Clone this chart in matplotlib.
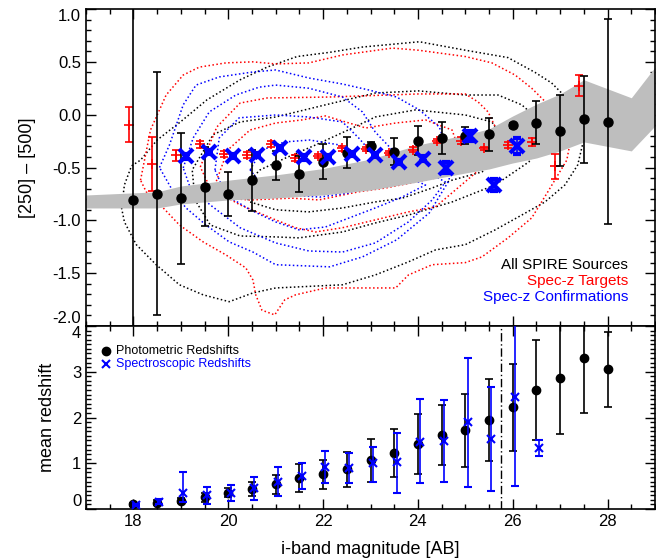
import matplotlib
matplotlib.use("Agg")
import matplotlib.pyplot as plt
from matplotlib.ticker import MultipleLocator

plt.rcParams['font.family'] = ['Liberation Sans', 'DejaVu Sans']
plt.rcParams['axes.linewidth'] = 1.2

# ---- top panel: [250]-[500] colour vs i-band magnitude ----
# all SPIRE sources (black)
blk_mag = [18.0, 18.5, 19.0, 19.5, 20.0, 20.5, 21.0, 21.5, 22.0, 22.5, 23.0,
           23.5, 24.0, 24.5, 25.0, 25.5, 26.0, 26.5, 27.0, 27.5, 28.0]
blk_col = [-0.81, -0.75, -0.79, -0.68, -0.75, -0.62, -0.48, -0.56, -0.445, -0.36, -0.30,
           -0.35, -0.245, -0.22, -0.20, -0.185, -0.10, -0.075, -0.15, -0.045, -0.065]
blk_err = [2.0, 1.15, 0.62, 0.37, 0.21, 0.29, 0.14, 0.17, 0.165, 0.145, 0.04,
           0.125, 0.14, 0.15, 0.08, 0.155, 0.025, 0.20, 0.34, 0.41, 0.97]

# spec-z targets (red)
red_mag = [17.9, 18.4, 18.9, 19.4, 19.9, 20.4, 20.9, 21.4, 21.9, 22.4,
           22.9, 23.4, 23.9, 24.4, 24.9, 25.4, 25.9, 26.4, 26.9, 27.4]
red_col = [-0.095, -0.465, -0.385, -0.28, -0.37, -0.38, -0.28, -0.41, -0.39, -0.32,
           -0.325, -0.36, -0.33, -0.25, -0.245, -0.32, -0.29, -0.26, -0.49, 0.275]
red_err = [0.165, 0.255, 0.05, 0.035, 0.03, 0.03, 0.03, 0.03, 0.02, 0.02,
           0.02, 0.02, 0.025, 0.02, 0.03, 0.015, 0.03, 0.04, 0.115, 0.10]

# spec-z confirmations (blue)
blu_mag = [19.1, 19.6, 20.1, 20.6, 21.1, 21.6, 22.1, 22.6, 23.1, 23.6,
           24.1, 24.6, 25.1, 25.6, 26.1]
blu_col = [-0.395, -0.35, -0.39, -0.38, -0.315, -0.405, -0.40, -0.375, -0.385, -0.45,
           -0.415, -0.50, -0.20, -0.665, -0.30]
blu_err = [0.02, 0.02, 0.02, 0.02, 0.02, 0.02, 0.02, 0.02, 0.02, 0.02,
           0.02, 0.05, 0.05, 0.06, 0.075]

# grey band
band_mag = [17.0, 18.5, 19.0, 20.0, 21.0, 22.0, 23.0, 24.0, 25.0, 25.5,
            26.0, 26.5, 27.0, 27.5, 28.5, 29.0]
band_hi = [-0.76, -0.73, -0.675, -0.62, -0.57, -0.51, -0.42, -0.287, -0.19, -0.135,
           -0.012, 0.10, 0.196, 0.33, 0.16, 0.45]
band_lo = [-0.883, -0.883, -0.845, -0.807, -0.788, -0.76, -0.713, -0.637, -0.552, -0.514,
           -0.457, -0.41, -0.343, -0.258, -0.343, -0.107]

# density contours (dotted)
blk_c1_mag = [17.75, 17.81, 17.96, 18.15, 18.50, 18.99, 19.55, 20.25, 20.82, 21.45, 22.14,
              22.83, 24.03, 25.0, 25.90, 26.47, 26.82, 27.03, 27.29, 27.45, 27.47, 27.37,
              27.10, 26.68, 26.19, 25.63, 25.0, 24.37, 23.80, 23.10, 22.41, 21.0, 20.52,
              20.02, 19.47, 18.97, 18.48, 18.06, 17.81]
blk_c1_col = [-0.883, -0.665, -0.485, -0.43, -0.24, -0.069, 0.14, 0.33, 0.45, 0.55, 0.59,
              0.64, 0.69, 0.61, 0.54, 0.40, 0.30, 0.205, 0.026, -0.145, -0.287, -0.476,
              -0.665, -0.826, -0.95, -1.09, -1.23, -1.28, -1.393, -1.517, -1.61, -1.64, -1.687,
              -1.77, -1.705, -1.61, -1.42, -1.23, -1.015]
blk_c2_mag = [19.30, 19.24, 19.68, 20.25, 21.0, 22.05, 23.10, 24.01, 25.0, 25.69, 26.19,
              26.55, 26.66, 26.34, 25.63, 24.72, 23.80, 23.10, 22.41, 21.49, 21.0, 20.25, 19.62]
blk_c2_col = [-0.807, -0.523, -0.19, -0.069, -0.022, 0.093, 0.205, 0.225, 0.186, 0.186, 0.093,
              -0.05, -0.24, -0.447, -0.665, -0.826, -0.95, -1.025, -1.11, -1.166, -1.157,
              -1.148, -1.044]
blk_c3_mag = [20.25, 20.67, 21.21, 21.84, 22.62, 23.10, 23.95, 25.0, 25.56, 25.82, 25.63,
              25.35, 24.72, 24.30, 23.67, 23.10, 22.41, 21.70, 21.0, 20.46]
blk_c3_col = [-0.713, -0.523, -0.41, -0.287, -0.126, -0.022, 0.045, -0.003, -0.069, -0.24,
              -0.43, -0.542, -0.62, -0.694, -0.79, -0.826, -0.883, -0.92, -0.90, -0.826]

red_c1_mag = [18.15, 18.36, 18.69, 19.05, 19.39, 19.95, 20.52, 21.0, 21.70, 22.41, 23.46,
              24.01, 25.0, 25.56, 26.05, 26.40, 26.82, 27.10, 27.22, 27.14, 26.74, 26.40,
              25.90, 25.35, 25.0, 24.30, 23.80, 23.53, 22.75, 22.05, 21.42, 21.19, 20.98,
              20.71, 20.58, 20.52, 20.37, 19.95, 19.47, 18.97, 18.63, 18.27]
red_c1_col = [-0.62, -0.145, 0.186, 0.375, 0.45, 0.49, 0.50, 0.48, 0.49, 0.565, 0.63,
              0.61, 0.55, 0.49, 0.375, 0.25, 0.063, -0.069, -0.24, -0.43, -0.73, -0.977,
              -1.166, -1.346, -1.40, -1.42, -1.517, -1.64, -1.64, -1.64, -1.705, -1.753, -1.895,
              -1.85, -1.705, -1.564, -1.45, -1.327, -1.204, -1.044, -0.883, -0.73]
red_c2_mag = [19.41, 19.76, 20.25, 20.82, 22.14, 24.01, 25.0, 25.27, 25.48, 25.71, 25.29,
              24.37, 23.80, 23.10, 22.41, 21.84, 21.42, 21.0, 20.25, 19.62]
red_c2_col = [-0.495, -0.116, 0.11, 0.158, 0.167, 0.196, 0.196, 0.12, 0.026, -0.19, -0.523,
              -0.873, -0.92, -0.996, -1.07, -1.11, -1.07, -0.996, -0.854, -0.694]
red_c3_mag = [19.72, 19.99, 20.46, 21.0, 21.55, 22.05, 22.90, 23.53, 24.16, 24.72, 24.87,
              24.37, 23.32, 22.75, 21.91, 21.34, 20.46, 19.93]
red_c3_col = [-0.665, -0.334, -0.145, -0.079, -0.05, -0.012, -0.126, -0.079, -0.05, -0.145,
              -0.334, -0.60, -0.694, -0.73, -0.807, -0.79, -0.807, -0.79]

blu_c1_mag = [18.55, 18.76, 19.05, 19.32, 19.81, 20.52, 21.0, 21.70, 22.41, 22.96, 23.55,
              24.03, 24.45, 24.66, 24.66, 24.24, 23.55, 22.83, 22.14, 21.0, 20.52, 20.02,
              19.53, 19.11, 18.84]
blu_c1_col = [-0.50, -0.287, 0.093, 0.28, 0.357, 0.404, 0.423, 0.347, 0.29, 0.234, 0.167,
              0.045, -0.116, -0.38, -0.62, -0.93, -1.185, -1.346, -1.44, -1.42, -1.30, -1.204,
              -1.044, -0.883, -0.73]
blu_c2_mag = [19.05, 19.26, 19.60, 20.16, 20.65, 21.0, 21.70, 22.41, 22.83, 23.10, 23.50,
              24.03, 24.58, 24.30, 23.80, 23.10, 22.41, 21.70, 21.0, 20.25, 19.62, 19.20]
blu_c2_col = [-0.504, -0.22, 0.026, 0.186, 0.26, 0.28, 0.25, 0.167, 0.026, -0.164, -0.353,
              -0.504, -0.637, -0.807, -1.015, -1.214, -1.30, -1.29, -1.214, -1.07, -0.854, -0.694]
blu_c3_mag = [19.72, 19.81, 20.23, 21.0, 21.70, 22.41, 22.75, 23.10, 23.50, 24.16, 23.67,
              23.10, 22.05, 21.49, 21.0, 20.46, 19.95]
blu_c3_col = [-0.523, -0.22, -0.03, -0.003, -0.022, -0.069, -0.22, -0.40, -0.542, -0.665,
              -0.779, -0.883, -1.063, -1.09, -1.015, -0.90, -0.76]
blu_c4_mag = [20.46, 20.71, 21.19, 21.72, 22.35, 22.77, 22.98, 22.56, 21.93, 21.30, 20.77]
blu_c4_col = [-0.523, -0.334, -0.258, -0.24, -0.287, -0.43, -0.618, -0.74, -0.78, -0.76, -0.694]

# ---- bottom panel: mean redshift vs magnitude ----
phot_mag = blk_mag
phot_z = [0.10, 0.14, 0.18, 0.26, 0.36, 0.44, 0.54, 0.68, 0.76, 0.87, 1.07,
          1.22, 1.42, 1.62, 1.72, 1.94, 2.22, 2.60, 2.87, 3.29, 3.05]
phot_err = [0.03, 0.05, 0.05, 0.10, 0.10, 0.15, 0.21, 0.31, 0.32, 0.38, 0.47,
            0.53, 0.66, 0.65, 0.80, 0.90, 0.95, 1.10, 1.24, 1.19, 0.82]

spec_mag = [18.05, 18.55, 19.05, 19.55, 20.05, 20.55, 21.05, 21.55, 22.05,
            22.55, 23.05, 23.55, 24.05, 24.55, 25.05, 25.55, 26.05, 26.55]
spec_z = [0.09, 0.16, 0.34, 0.31, 0.36, 0.45, 0.58, 0.72, 0.92,
          0.90, 1.00, 1.02, 1.47, 1.49, 1.91, 1.54, 2.45, 1.34]
spec_lo = [0.02, 0.05, 0.18, 0.19, 0.19, 0.25, 0.30, 0.29, 0.35,
           0.33, 0.41, 0.66, 0.91, 0.90, 1.42, 1.14, 1.94, 0.18]
spec_hi = [0.02, 0.05, 0.46, 0.18, 0.16, 0.26, 0.34, 0.29, 0.35,
           0.32, 0.36, 0.65, 0.93, 0.89, 1.40, 1.13, 1.95, 0.17]

mag_limit = 25.75

fig = plt.figure(figsize=(6.56, 5.6), dpi=100)
ax1 = fig.add_axes([86 / 656, 1 - 326 / 560, 569 / 656, 317 / 560])
ax2 = fig.add_axes([86 / 656, 1 - 509 / 560, 569 / 656, 183 / 560])

dot = (0, (1, 1.6))
contours = [(blk_c1_mag, blk_c1_col, 'k'), (blk_c2_mag, blk_c2_col, 'k'),
            (blk_c3_mag, blk_c3_col, 'k'),
            (red_c1_mag, red_c1_col, 'red'), (red_c2_mag, red_c2_col, 'red'),
            (red_c3_mag, red_c3_col, 'red'),
            (blu_c1_mag, blu_c1_col, 'blue'), (blu_c2_mag, blu_c2_col, 'blue'),
            (blu_c3_mag, blu_c3_col, 'blue'), (blu_c4_mag, blu_c4_col, 'blue')]
for xs, ys, c in contours:
    ax1.plot(xs + xs[:1], ys + ys[:1], color=c, lw=1.1, ls=dot, zorder=1)

ax1.fill_between(band_mag, band_lo, band_hi, color='#bebebe', lw=0, zorder=2)

ax1.errorbar(red_mag, red_col, yerr=red_err, fmt='+', color='red', ms=7, mew=1.2,
             elinewidth=1.2, capsize=3, capthick=1.2, zorder=4)
ax1.errorbar(blk_mag, blk_col, yerr=blk_err, fmt='o', color='k', ms=6.5,
             elinewidth=1.2, capsize=3, capthick=1.2, zorder=5)
ax1.errorbar(blu_mag, blu_col, yerr=blu_err, fmt='x', color='blue', ms=10, mew=3,
             elinewidth=1.2, capsize=3, capthick=1.2, zorder=6)

ax1.text(0.953, 0.192, 'All SPIRE Sources', color='k', fontsize=11,
         ha='right', va='center', transform=ax1.transAxes)
ax1.text(0.953, 0.142, 'Spec-z Targets', color='red', fontsize=11,
         ha='right', va='center', transform=ax1.transAxes)
ax1.text(0.953, 0.091, 'Spec-z Confirmations', color='blue', fontsize=11,
         ha='right', va='center', transform=ax1.transAxes)

ax1.set_xlim(17, 29)
ax1.set_ylim(-2.0, 1.0)
ax1.xaxis.set_major_locator(MultipleLocator(2))
ax1.xaxis.set_minor_locator(MultipleLocator(0.5))
ax1.yaxis.set_major_locator(MultipleLocator(0.5))
ax1.yaxis.set_minor_locator(MultipleLocator(0.1))
ax1.yaxis.set_major_formatter(plt.FormatStrFormatter('%.1f'))
ax1.tick_params(labelbottom=False)
ax1.set_ylabel('[250] \u2013 [500]', fontsize=13)
ax1.yaxis.set_label_coords(-0.088, 0.5)

# bottom panel
ax2.errorbar(phot_mag, phot_z, yerr=phot_err, fmt='o', color='k', ms=6,
             elinewidth=1.2, capsize=3, capthick=1.2, zorder=3)
ax2.errorbar(spec_mag, spec_z, yerr=[spec_lo, spec_hi], fmt='x', color='blue', ms=6,
             mew=1.5, elinewidth=1.2, capsize=3, capthick=1.2, zorder=4)
ax2.axvline(mag_limit, color='k', lw=1.0, ls=(0, (6, 2, 1, 2)), zorder=2)

ax2.plot([0.036], [0.865], 'o', color='k', ms=6, transform=ax2.transAxes)
ax2.text(0.053, 0.865, 'Photometric Redshifts', color='k', fontsize=9,
         va='center', transform=ax2.transAxes)
ax2.plot([0.036], [0.79], 'x', color='blue', ms=6, mew=1.5, transform=ax2.transAxes)
ax2.text(0.053, 0.79, 'Spectroscopic Redshifts', color='blue', fontsize=9,
         va='center', transform=ax2.transAxes)

ax2.set_xlim(17, 29)
ax2.set_ylim(0, 4)
ax2.xaxis.set_major_locator(MultipleLocator(2))
ax2.xaxis.set_minor_locator(MultipleLocator(0.5))
ax2.yaxis.set_major_locator(MultipleLocator(1))
ax2.yaxis.set_minor_locator(MultipleLocator(0.1))
ax2.set_xlabel('i-band magnitude [AB]', fontsize=13)
ax2.xaxis.set_label_coords(0.5, -0.175)
ax2.set_ylabel('mean redshift', fontsize=13)
ax2.yaxis.set_label_coords(-0.053, 0.5)

for ax in (ax1, ax2):
    ax.tick_params(which='both', direction='in', top=True, right=True, width=1.0,
                   labelsize=12)
    ax.tick_params(which='major', length=7)
    ax.tick_params(which='minor', length=3.5)

# keep the end labels inside their panel, as in the original
fig.canvas.draw()
for ax in (ax1, ax2):
    lo, hi = ax.get_ylim()
    for tick in ax.yaxis.get_major_ticks():
        v = tick.get_loc()
        if abs(v - lo) < 1e-6:
            tick.label1.set_verticalalignment('bottom')
        elif abs(v - hi) < 1e-6:
            tick.label1.set_verticalalignment('top')

fig.savefig('out.png', dpi=100)
